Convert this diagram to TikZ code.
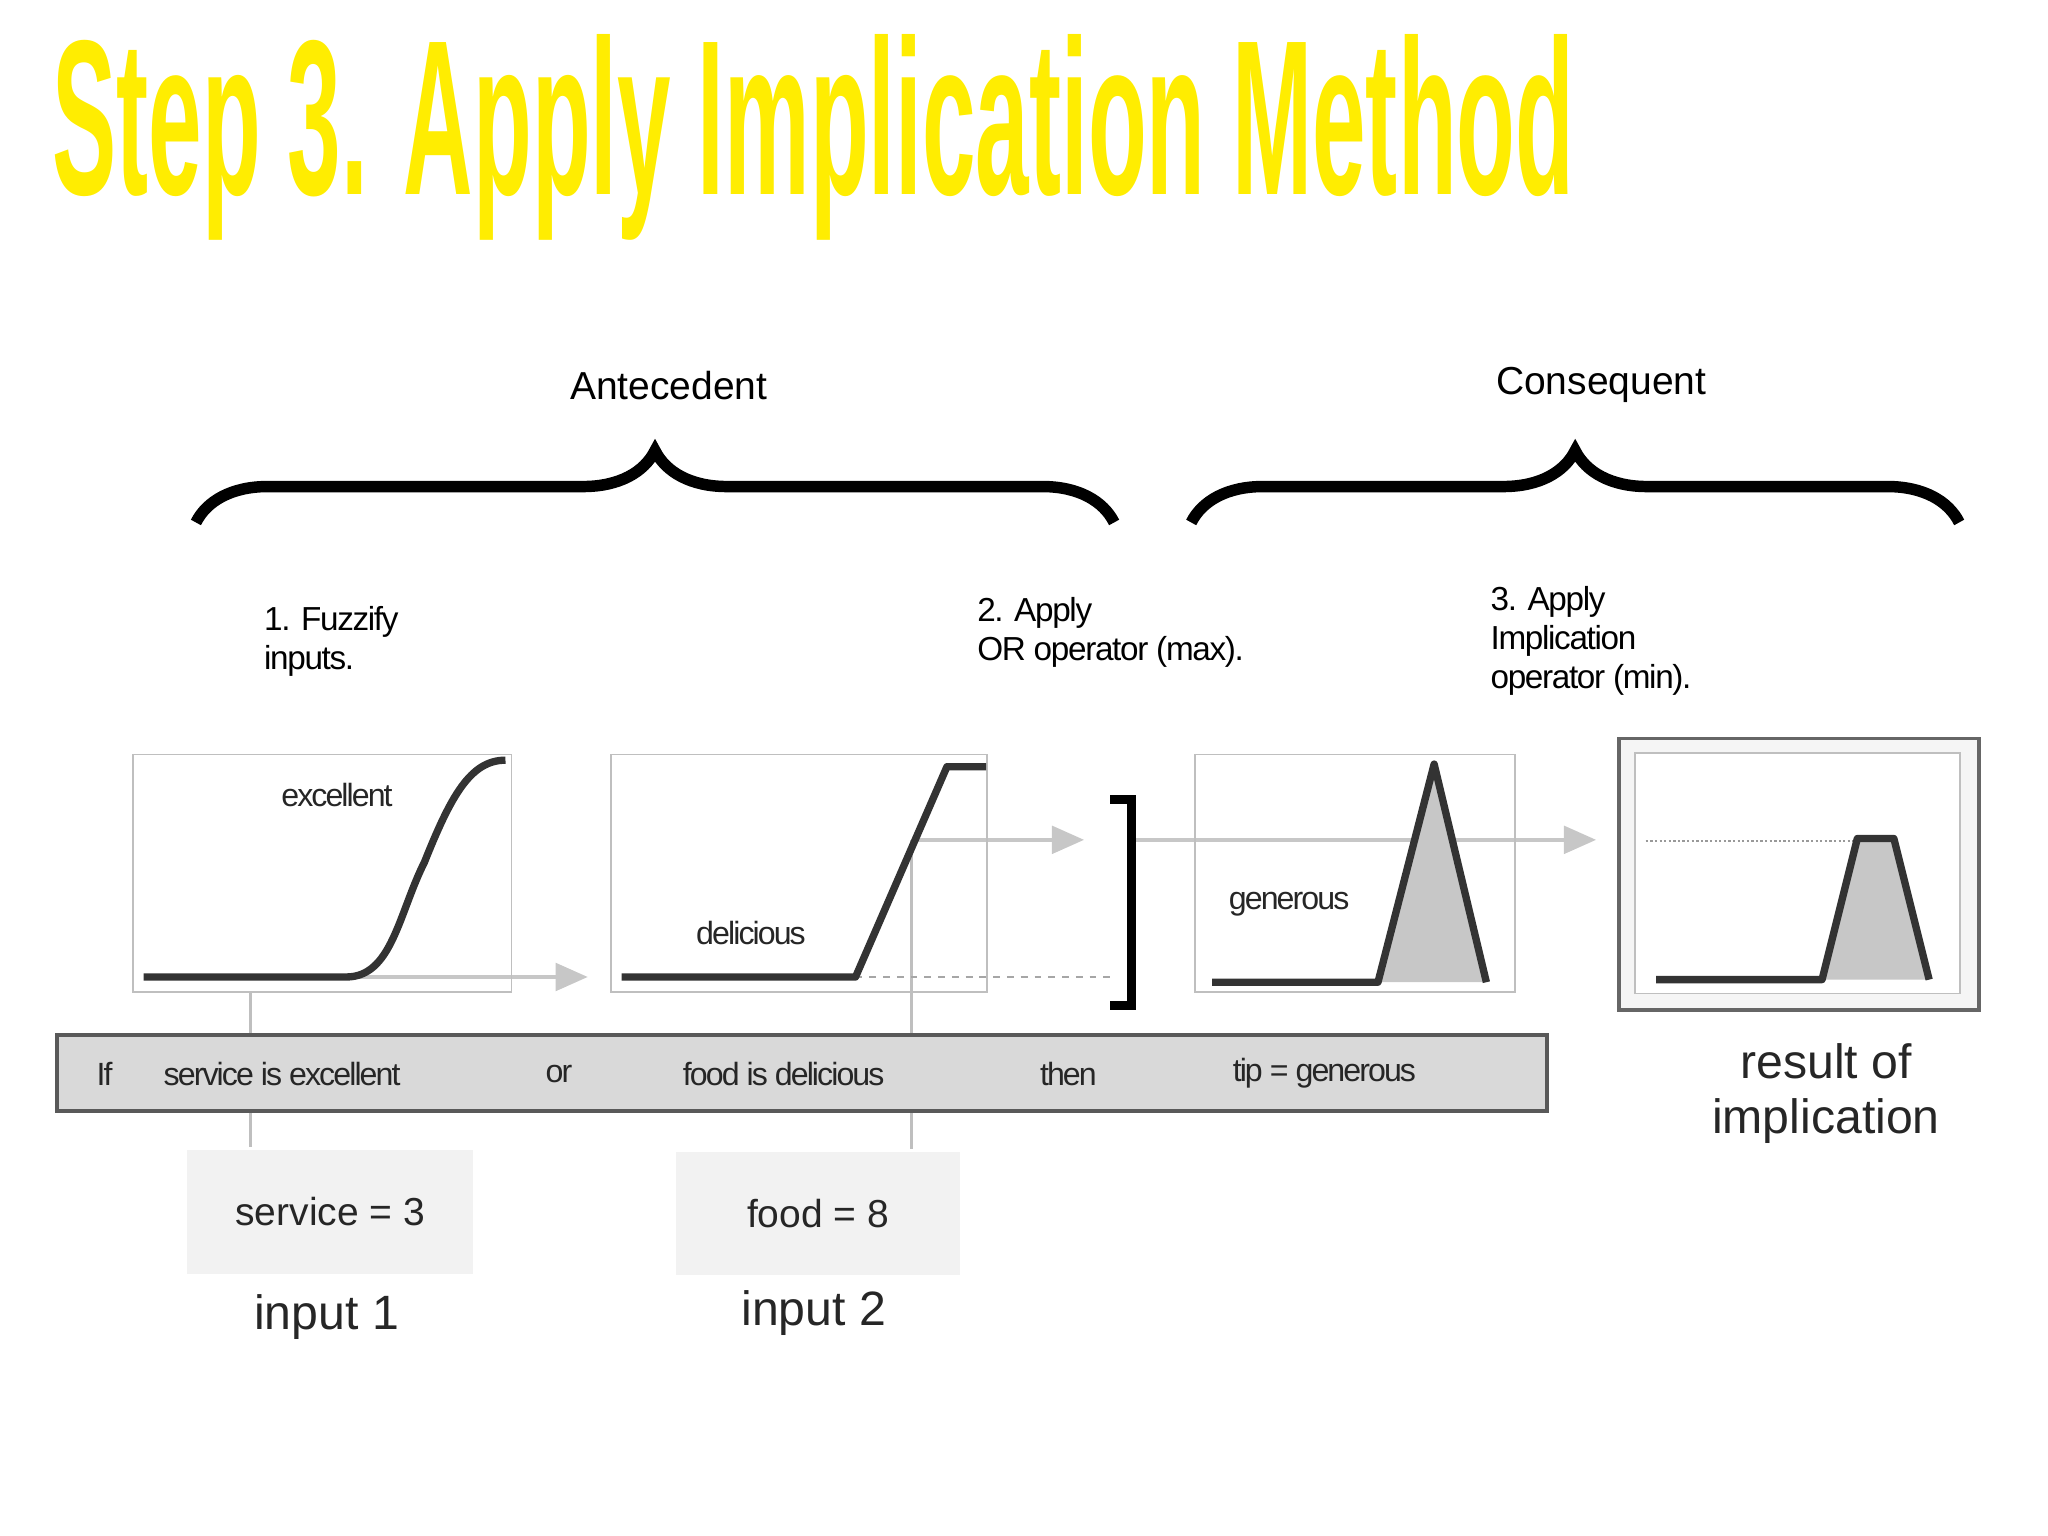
\documentclass[tikz,border=0pt]{standalone}
\usepackage{fontspec}
\setmainfont{Liberation Sans}
\usetikzlibrary{decorations.pathreplacing,arrows.meta}
\begin{document}
\begin{tikzpicture}[x=0.02cm,y=-0.02cm,
 lbl/.style={font=\fontsize{17}{20}\selectfont,align=left},
 sl/.style={anchor=north west,align=left,font=\fontsize{14.5}{17}\selectfont\addfontfeatures{LetterSpace=-4}},
 rl/.style={font=\fontsize{14}{16}\selectfont\addfontfeatures{LetterSpace=-6},text=black!85},
 mfbox/.style={draw=black!25,line width=0.8pt},
 curve/.style={line width=3.2pt,black!80,line join=round},
 garrow/.style={draw=black!22,line width=1.6pt,-{Triangle[length=14pt,width=12pt]}},
 brc/.style={decorate,decoration={brace,amplitude=1.1cm},line width=5pt},
 inbox/.style={fill=black!5,draw=none}]
\useasboundingbox (0,0) rectangle (1568,1176);
% title
\node[anchor=west,text=yellow!95!orange,inner sep=0pt] (title) at (40,105) {\resizebox{23.3cm}{2.45cm}{\bfseries Step 3. Apply Implication Method}};
% braces
\draw[brc] (150,400) -- (853,400);
\draw[brc] (912,400) -- (1500,400);
\node[lbl] (ante) at (512,295) {Antecedent};
\node[lbl] (cons) at (1226,295) {Consequent};
\node[sl] (s1) at (196,458) {1. Fuzzify\\inputs.};
\node[sl] (s2) at (742,451) {2. Apply\\OR operator (max).};
\node[sl] (s3) at (1135,443) {3. Apply\\Implication\\operator (min).};
% connectors behind
\draw[black!25,line width=1.2pt] (192,759) -- (192,878);
\draw[black!25,line width=1.2pt] (698,643) -- (698,880);
\draw[garrow] (270,748) -- (450,748);
\draw[black!35,dashed,line width=1pt] (655,748) -- (850,748);
\draw[garrow] (700,643) -- (830,643);
\draw[garrow] (868,643) -- (1222,643);
% box1
\node[mfbox,minimum width=5.8cm,minimum height=3.64cm,anchor=north west] (b1) at (101,577) {};
\draw[curve] (110,748) -- (265,748) .. controls (300,748) and (305,700) .. (325,660) .. controls (345,610) and (360,582) .. (387,582);
\node[rl] (l1) at (258,609) {excellent};
% box2
\node[mfbox,minimum width=5.76cm,minimum height=3.64cm,anchor=north west] (b2) at (467,577) {};
\draw[curve] (476,748) -- (655,748) -- (725,587) -- (755,587);
\node[rl] (l2) at (575,714) {delicious};
% bracket
\draw[line width=4pt] (850,612) -- (866,612) -- (866,770) -- (850,770);
% box3
\node[mfbox,minimum width=4.9cm,minimum height=3.64cm,anchor=north west] (b3) at (914,577) {};
\fill[black!22] (1055,752) -- (1098,585) -- (1138,752) -- cycle;
\draw[curve] (928,752) -- (1055,752) -- (1098,585) -- (1138,752);
\node[rl] (l3) at (987,692) {generous};
% box4
\node[draw=black!60,line width=1.6pt,fill=black!4,minimum width=5.52cm,minimum height=4.16cm,anchor=north west] (b4) at (1238,564) {};
\node[draw=black!25,fill=white,line width=0.8pt,minimum width=4.98cm,minimum height=3.68cm,anchor=north west] (b4i) at (1251,576) {};
\draw[black!40,densely dotted,line width=1pt] (1260,644) -- (1425,644);
\fill[black!22] (1395,750) -- (1422,642) -- (1450,642) -- (1477,750) -- cycle;
\draw[curve] (1268,750) -- (1395,750) -- (1422,642) -- (1450,642) -- (1477,750);
\node[align=center,font=\fontsize{21}{24}\selectfont,text=black!85] (res) at (1398,837) {result of\\implication};
% rule bar
\node[draw=black!65,fill=black!15,line width=1.6pt,minimum width=22.82cm,minimum height=1.16cm,anchor=north west] (rule) at (42,791) {};
\node[rl] (r1) at (80,822) {If};
\node[rl] (r2) at (216,822) {service is excellent};
\node[rl] (r3) at (428,822) {or};
\node[rl] (r4) at (600,822) {food is delicious};
\node[rl] (r5) at (818,822) {then};
\node[rl] (r6) at (1014,822) {tip = generous};
% inputs
\node[inbox,minimum width=4.38cm,minimum height=1.9cm,anchor=north west] (in1) at (143,880) {};
\node[font=\fontsize{17}{20}\selectfont,text=black!85] at (in1.center) {service = 3};
\node[inbox,minimum width=4.36cm,minimum height=1.88cm,anchor=north west] (in2) at (517,882) {};
\node[font=\fontsize{17}{20}\selectfont,text=black!85] at (in2.center) {food = 8};
\node[font=\fontsize{21}{24}\selectfont,text=black!85] (i1) at (250,1008) {input 1};
\node[font=\fontsize{21}{24}\selectfont,text=black!85] (i2) at (623,1005) {input 2};
\end{tikzpicture}
\end{document}
